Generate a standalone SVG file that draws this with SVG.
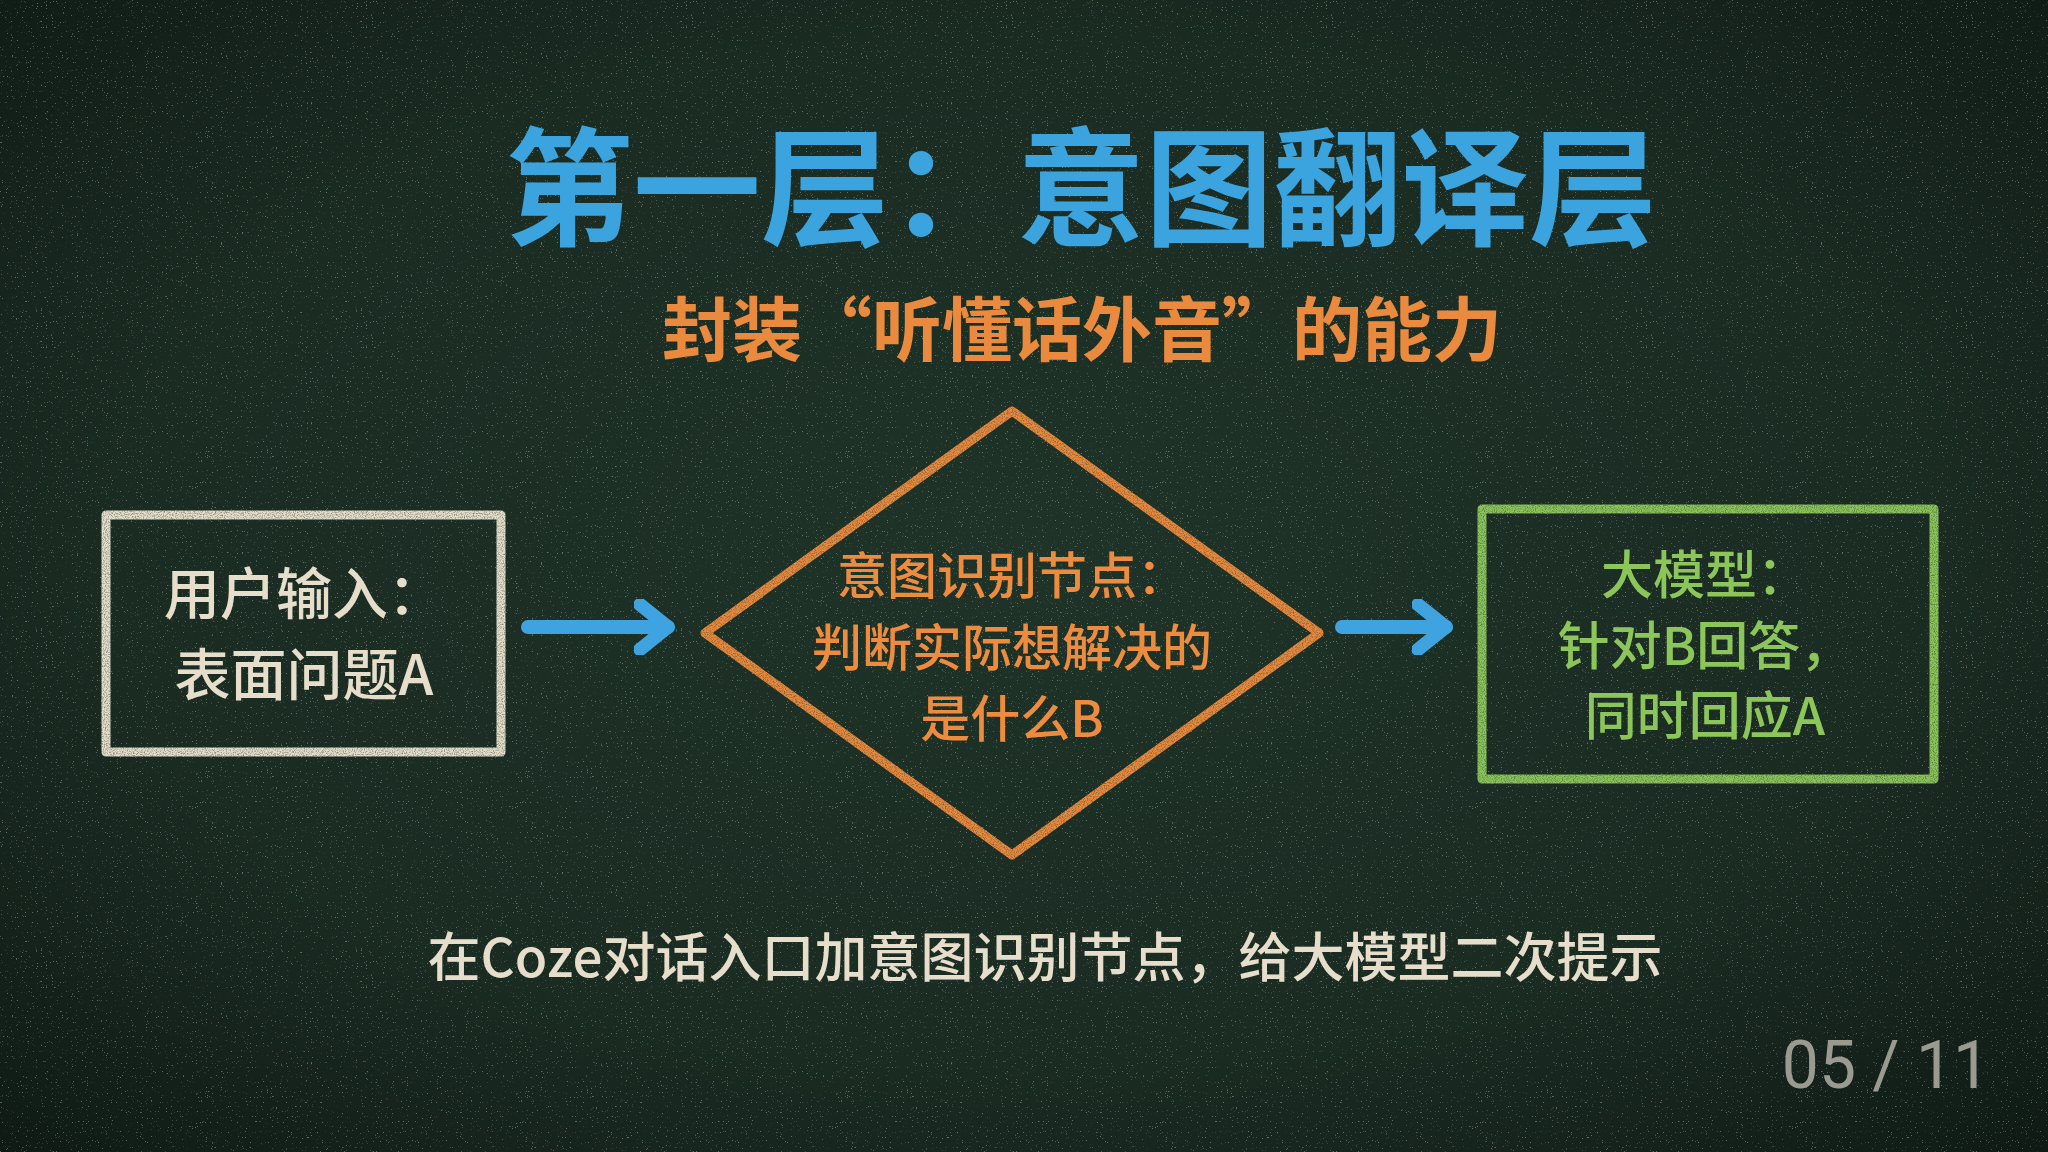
<svg xmlns="http://www.w3.org/2000/svg" width="2048" height="1152" viewBox="0 0 2048 1152">
<defs>
<radialGradient id="bg" cx="50%" cy="48%" r="75%">
<stop offset="0" stop-color="#1f3328"/>
<stop offset="0.6" stop-color="#1a2b22"/>
<stop offset="1" stop-color="#0e1813"/>
</radialGradient>
<filter id="chalk" x="-5%" y="-5%" width="110%" height="110%">
<feTurbulence type="fractalNoise" baseFrequency="0.9" numOctaves="2" seed="3" result="n"/>
<feColorMatrix in="n" type="matrix" values="0 0 0 0 0  0 0 0 0 0  0 0 0 0 0  0 0 0 -1.2 1.5" result="m"/>
<feComposite in="SourceGraphic" in2="m" operator="in"/>
</filter>
<filter id="dust">
<feTurbulence type="fractalNoise" baseFrequency="0.8" numOctaves="2" seed="7" result="n"/>
<feColorMatrix in="n" type="matrix" values="0 0 0 0 0.8  0 0 0 0 0.85  0 0 0 0 0.8  0 0 0 9 -6.2"/>
</filter>
<marker id="ah" viewBox="0 0 10 10" refX="6" refY="5" markerWidth="4" markerHeight="4" orient="auto">
<path d="M1,1 L6,5 L1,9" fill="none" stroke="#3fa3e0" stroke-width="2.4" stroke-linecap="round" stroke-linejoin="round"/>
</marker>
</defs>
<style>
text{font-family:"Noto Sans CJK SC","Noto Sans",sans-serif;text-anchor:middle}
.t{fill:#3ba3dd;font-size:128px;font-weight:700}
.s{fill:#ea8a3e;font-size:70px;font-weight:700}
.w{fill:#e6decb;font-size:56px;font-weight:500}
.o{fill:#ed8b3f;font-size:50px;font-weight:500}
.g{fill:#8cc55a;font-size:52px;font-weight:500}
.b{fill:#e6decb;font-size:53px;font-weight:500}
.p{fill:#9a9a90;font-size:66px;font-family:"Roboto","Liberation Sans",sans-serif}
.ln{fill:none;stroke-width:9;stroke-linejoin:round}
.ar{fill:none;stroke:#3fa3e0;stroke-width:14;stroke-linecap:round}
</style>
<rect width="2048" height="1152" fill="url(#bg)"/>
<rect width="2048" height="1152" filter="url(#dust)" opacity="0.35"/>
<text class="t" x="1081" y="236">第一层：意图翻译层</text>
<text class="s" x="1082" y="356">封装“听懂话外音”的能力</text>
<g id="input">
<rect class="ln" x="106" y="515" width="395" height="237" stroke="#e6decb" filter="url(#chalk)"/>
<text class="w" x="304" y="614">用户输入：</text>
<text class="w" x="304" y="695">表面问题A</text>
</g>
<g id="intent">
<path class="ln" d="M1012,411 L1319,633 L1012,855 L705,633 Z" stroke="#ea8a3e" filter="url(#chalk)"/>
<text class="o" x="1012" y="594">意图识别节点：</text>
<text class="o" x="1012" y="666">判断实际想解决的</text>
<text class="o" x="1012" y="737">是什么B</text>
</g>
<g id="llm">
<rect class="ln" x="1482" y="509" width="452" height="270" stroke="#8cc55a" filter="url(#chalk)"/>
<text class="g" x="1705" y="594">大模型：</text>
<text class="g" x="1705" y="665">针对B回答，</text>
<text class="g" x="1705" y="735">同时回应A</text>
</g>
<g id="connectors">
<path class="ar" d="M528,627 L668,627" marker-end="url(#ah)"/>
<path class="ar" d="M1342,627 L1446,627" marker-end="url(#ah)"/>
</g>
<text class="b" x="1045" y="977">在Coze对话入口加意图识别节点，给大模型二次提示</text>
<text class="p" x="1886" y="1088">05 / 11</text>
</svg>
